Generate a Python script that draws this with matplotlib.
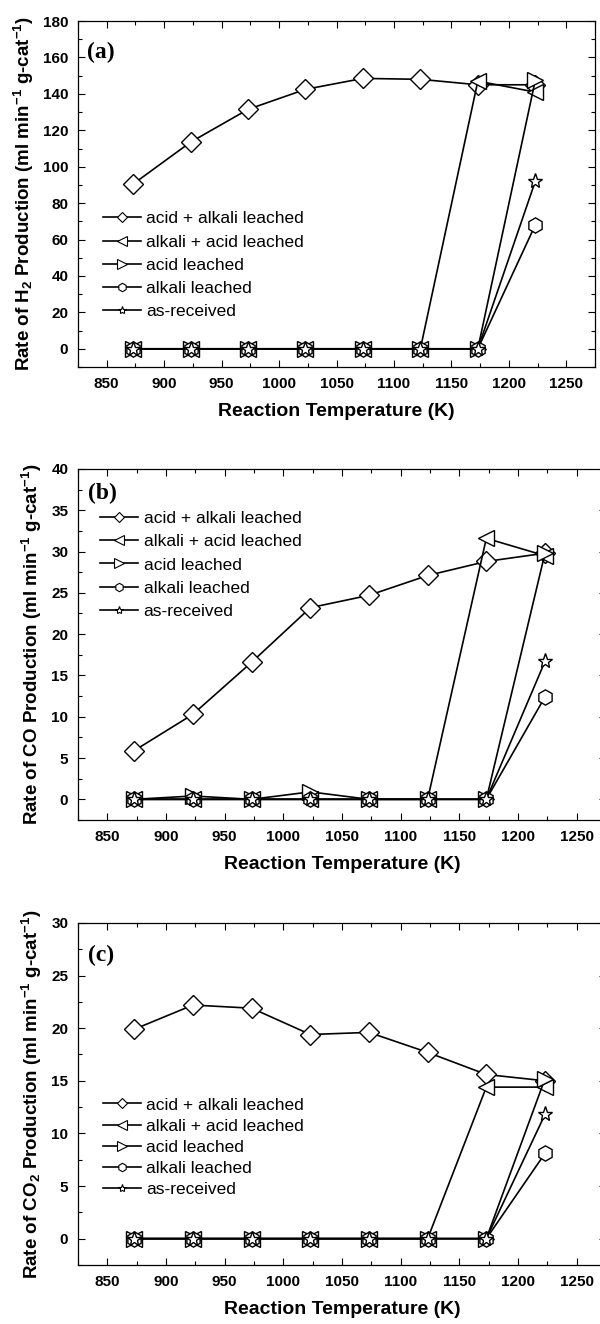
import matplotlib
matplotlib.use("Agg")
import matplotlib.pyplot as plt
from matplotlib.lines import Line2D
from matplotlib.ticker import MultipleLocator


# DATA
temps = [873, 923, 973, 1023, 1073, 1123, 1173, 1223]

series_labels = ["acid + alkali leached", "alkali + acid leached",
                 "acid leached", "alkali leached", "as-received"]

h2_acid_alkali = [90.5, 113.5, 131.5, 142.5, 148.5, 148.0, 145.0, 145.0]
h2_alkali_acid = [0, 0, 0, 0, 0, 0, 147.0, 141.0]
h2_acid = [0, 0, 0, 0, 0, 0, 0, 147.5]
h2_alkali = [0, 0, 0, 0, 0, 0, 0, 68.0]
h2_received = [0, 0, 0, 0, 0, 0, 0, 92.0]

co_acid_alkali = [5.9, 10.3, 16.6, 23.2, 24.7, 27.1, 28.8, 29.8]
co_alkali_acid = [0, 0, 0, 0, 0, 0, 31.6, 29.5]
co_acid = [0, 0.4, 0, 0.9, 0, 0, 0, 29.8]
co_alkali = [0, 0, 0, 0, 0, 0, 0, 12.4]
co_received = [0, 0, 0, 0, 0, 0, 0, 16.7]

co2_acid_alkali = [19.9, 22.2, 21.9, 19.4, 19.6, 17.7, 15.6, 15.0]
co2_alkali_acid = [0, 0, 0, 0, 0, 0, 14.4, 14.4]
co2_acid = [0, 0, 0, 0, 0, 0, 0, 15.2]
co2_alkali = [0, 0, 0, 0, 0, 0, 0, 8.1]
co2_received = [0, 0, 0, 0, 0, 0, 0, 11.8]

markers = ["D", "<", ">", "h", "*"]
marker_sizes = [10, 12, 12, 11, 11]


# STYLE
plt.rcParams["font.family"] = ["Liberation Sans", "DejaVu Sans"]
plt.rcParams["font.weight"] = "bold"
plt.rcParams["mathtext.fontset"] = "custom"
plt.rcParams["mathtext.rm"] = "Liberation Sans:bold"
plt.rcParams["mathtext.it"] = "Liberation Sans:bold"
plt.rcParams["mathtext.bf"] = "Liberation Sans:bold"
plt.rcParams["mathtext.default"] = "rm"


# ONE PANEL
def draw_panel(ax, series, ylim, ymajor, ylabel, letter, leg_xy, leg_spacing):

    for vals, m, ms in zip(series, markers, marker_sizes):
        ax.plot(temps, vals, color="black", lw=1.2, marker=m, ms=ms,
                mfc="white", mec="black", mew=1.0)

    ax.set_xlim(825, 1275)
    ax.set_ylim(*ylim)
    ax.xaxis.set_major_locator(MultipleLocator(50))
    ax.xaxis.set_minor_locator(MultipleLocator(25))
    ax.yaxis.set_major_locator(MultipleLocator(ymajor))
    ax.yaxis.set_minor_locator(MultipleLocator(ymajor / 2))

    ax.tick_params(which="both", direction="in", top=True, right=True,
                   width=0.8, labelsize=11, pad=7)
    ax.tick_params(which="major", length=5)
    ax.tick_params(which="minor", length=3)
    plt.setp(ax.get_xticklabels() + ax.get_yticklabels(), fontweight="bold")
    for sp in ax.spines.values():
        sp.set_linewidth(0.9)

    ax.set_xlabel("Reaction Temperature (K)", fontsize=14, labelpad=9,
                  fontweight="bold")
    ax.set_ylabel(ylabel, fontsize=13.5, labelpad=5, fontweight="bold")

    ax.text(0.018, leg_xy[2], letter, transform=ax.transAxes,
            fontsize=17, fontweight="bold", family="Liberation Serif",
            va="center", ha="left")

    # small open markers in the legend, as in the original
    handles = [Line2D([], [], color="black", lw=1.2, marker=m, ms=ms * 0.55,
                      mfc="white", mec="black", mew=0.8)
               for m, ms in zip(markers, marker_sizes)]
    ax.legend(handles, series_labels, loc="upper left",
              bbox_to_anchor=(leg_xy[0], leg_xy[1]), frameon=False,
              borderpad=0, borderaxespad=0, handlelength=2.2,
              handletextpad=0.3, labelspacing=leg_spacing,
              prop={"family": "Liberation Sans", "weight": "normal",
                    "size": 12.5})


# FIGURE
fig = plt.figure(figsize=(6, 13.24), dpi=100)

ax_a = fig.add_axes([0.13, 0.7228, 0.8617, 0.2613])
ax_b = fig.add_axes([0.13, 0.3807, 0.88, 0.2651])
ax_c = fig.add_axes([0.13, 0.0446, 0.88, 0.2583])

draw_panel(ax_a,
           [h2_acid_alkali, h2_alkali_acid, h2_acid, h2_alkali, h2_received],
           (-10, 180), 20,
           r"Rate of H$_{2}$ Production (ml min$^{-1}$ g-cat$^{-1}$)",
           "(a)", (0.048, 0.45, 0.91), 0.46)

draw_panel(ax_b,
           [co_acid_alkali, co_alkali_acid, co_acid, co_alkali, co_received],
           (-2.5, 40), 5,
           r"Rate of CO Production (ml min$^{-1}$ g-cat$^{-1}$)",
           "(b)", (0.042, 0.88, 0.93), 0.46)

draw_panel(ax_c,
           [co2_acid_alkali, co2_alkali_acid, co2_acid, co2_alkali, co2_received],
           (-2.5, 30), 5,
           r"Rate of CO$_{2}$ Production (ml min$^{-1}$ g-cat$^{-1}$)",
           "(c)", (0.047, 0.49, 0.906), 0.34)

fig.savefig("out.png", dpi=100)
